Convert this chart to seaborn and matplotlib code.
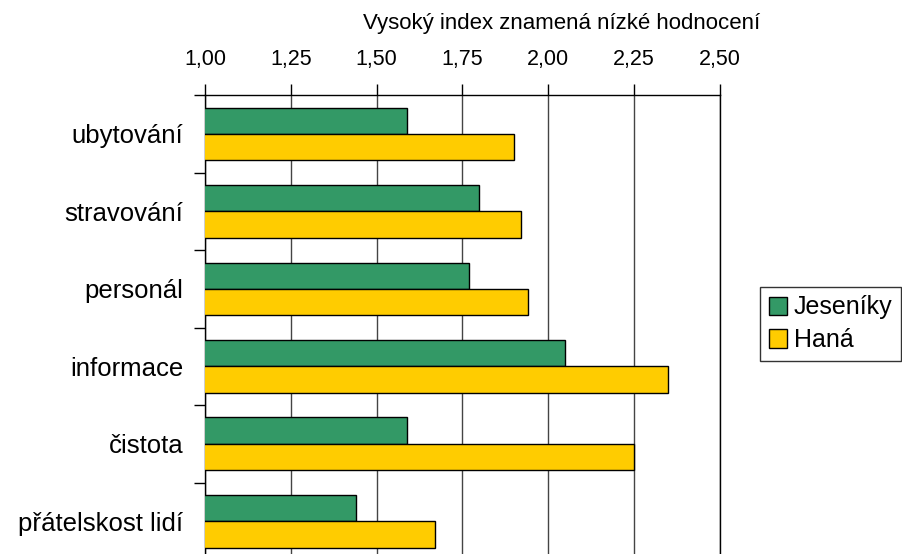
import matplotlib
matplotlib.use("Agg")
import matplotlib.pyplot as plt
import seaborn as sns
import pandas as pd
from matplotlib.ticker import FixedLocator, FuncFormatter

sns.set_style("white")
plt.rcParams['font.family'] = ['Liberation Sans', 'DejaVu Sans']
plt.rcParams['text.color'] = 'black'
plt.rcParams['axes.labelcolor'] = 'black'
plt.rcParams['xtick.color'] = 'black'
plt.rcParams['ytick.color'] = 'black'

# data
categories = ['ubytování', 'stravování', 'personál', 'informace', 'čistota', 'přátelskost lidí']
jeseniky = [1.59, 1.80, 1.77, 2.05, 1.59, 1.44]
hana = [1.90, 1.92, 1.94, 2.35, 2.25, 1.67]
regions = ['Jeseníky', 'Haná']
colors = ['#339966', '#FFCC00']
x_ticks = [1.00, 1.25, 1.50, 1.75, 2.00, 2.25, 2.50]

df = pd.DataFrame({
    'kategorie': categories * 2,
    'index': jeseniky + hana,
    'region': [regions[0]] * len(categories) + [regions[1]] * len(categories),
})

fig = plt.figure(figsize=(9.03, 5.54), dpi=100)
ax = fig.add_axes([0.227, -0.0108, 0.570, 0.839])

sns.barplot(data=df, x='index', y='kategorie', hue='region', orient='h',
            palette=colors, width=0.68, edgecolor='black', linewidth=1,
            saturation=1, ax=ax, zorder=3)

ax.set_xlim(1.0, 2.5)
ax.set_ylim(len(categories) - 0.5, -0.5)

# x axis on top, comma decimals
ax.xaxis.tick_top()
ax.xaxis.set_label_position('top')
ax.xaxis.set_major_locator(FixedLocator(x_ticks))
ax.xaxis.set_major_formatter(FuncFormatter(lambda v, p: f'{v:.2f}'.replace('.', ',')))
ax.tick_params(axis='x', which='major', direction='out', length=8, width=1,
               color='black', labelsize=15.5, pad=10)
ax.grid(axis='x', color='#444444', linewidth=1, zorder=0)
ax.set_xlabel('Vysoký index znamená nízké hodnocení', fontsize=16)
ax.xaxis.set_label_coords(0.693, 1.142)

# category labels centred, tick marks at category boundaries
n = len(categories)
ax.yaxis.set_major_locator(FixedLocator([i - 0.5 for i in range(n + 1)]))
ax.yaxis.set_major_formatter(FuncFormatter(lambda v, p: ''))
ax.yaxis.set_minor_locator(FixedLocator(list(range(n))))
ax.yaxis.set_minor_formatter(FuncFormatter(lambda v, p: categories[int(round(v))]))
ax.tick_params(axis='y', which='major', direction='out', length=8, width=1, color='black', left=True)
ax.tick_params(axis='y', which='minor', length=0, labelsize=18.5, pad=15.5)
ax.set_ylabel('')

for side in ['left', 'top', 'right']:
    ax.spines[side].set_visible(True)
    ax.spines[side].set_color('black')
    ax.spines[side].set_linewidth(1)
ax.spines['bottom'].set_visible(False)

ax.legend(title=None, loc='center left', bbox_to_anchor=(1.078, 0.508),
          fontsize=18, frameon=True, fancybox=False, edgecolor='black',
          handlelength=0.75, handleheight=0.75, handletextpad=0.25,
          borderpad=0.35, labelspacing=0.35, borderaxespad=0)
ax.get_legend().get_frame().set_linewidth(1)

fig.savefig('out.png', dpi=100)
